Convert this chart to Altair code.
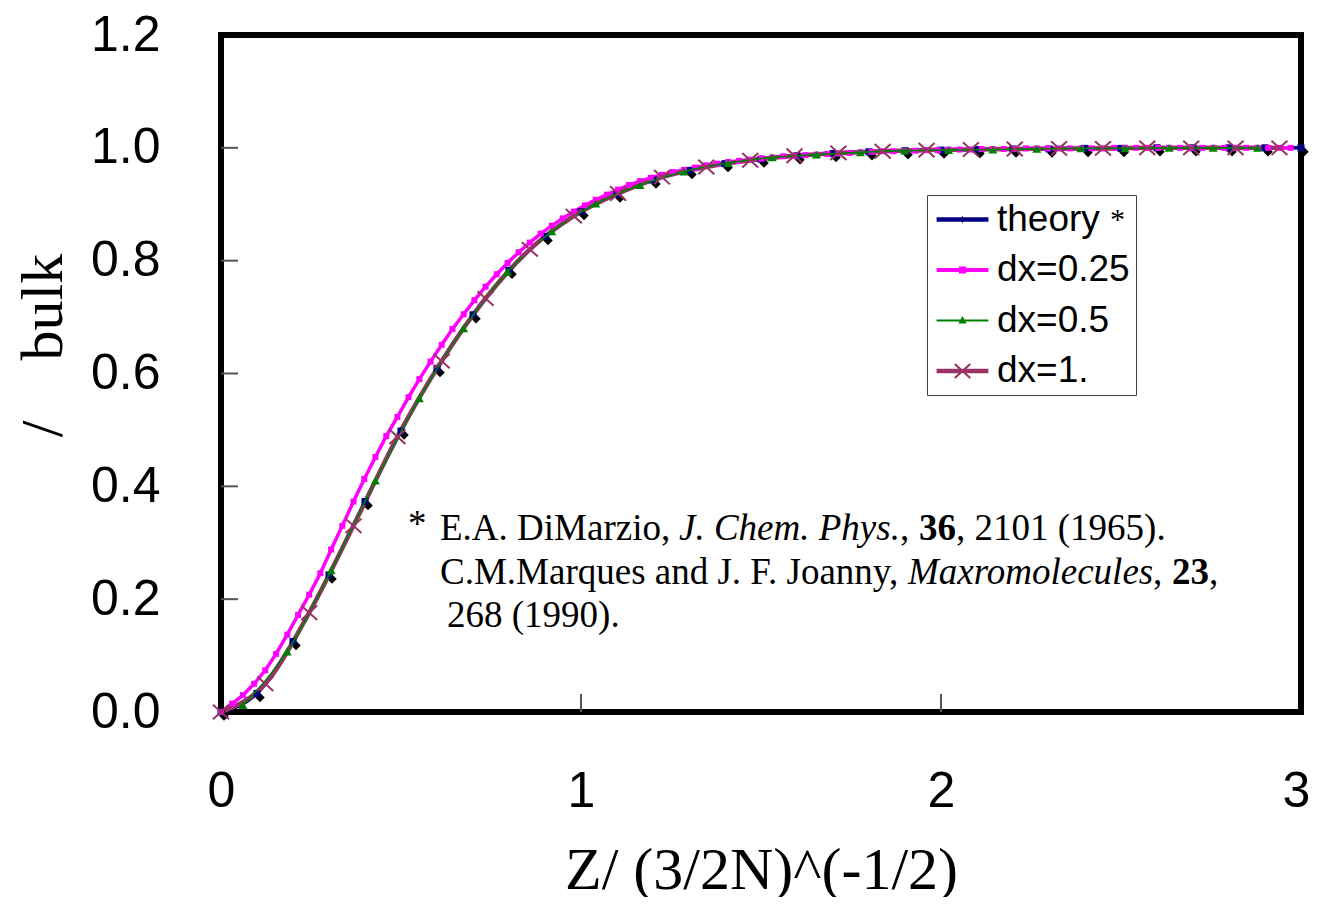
import altair as alt
import pandas as pd

# ---------------- data ----------------
theory_x = [0.0, 0.1, 0.2, 0.3, 0.4, 0.5, 0.6, 0.7, 0.8, 0.9, 1.0, 1.1, 1.2, 1.3, 1.4, 1.5,
            1.6, 1.7, 1.8, 1.9, 2.0, 2.1, 2.2, 2.3, 2.4, 2.5, 2.6, 2.7, 2.8, 2.9, 3.0]
theory_y = [0.000, 0.033, 0.125, 0.243, 0.373, 0.498, 0.609, 0.704, 0.783, 0.843, 0.887,
            0.918, 0.943, 0.960, 0.972, 0.980, 0.986, 0.990, 0.993, 0.995, 0.996, 0.997,
            0.998, 0.998, 0.999, 0.999, 1.000, 1.000, 1.000, 1.000, 1.000]

dx025_x = [0.000, 0.031, 0.061, 0.092, 0.123, 0.153, 0.184, 0.214, 0.245, 0.276, 0.306, 0.337,
           0.368, 0.398, 0.429, 0.459, 0.490, 0.521, 0.551, 0.582, 0.613, 0.643, 0.674, 0.704,
           0.735, 0.766, 0.796, 0.827, 0.858, 0.888, 0.919, 0.949, 0.980, 1.011, 1.041, 1.072,
           1.103, 1.133, 1.164, 1.194, 1.225, 1.256, 1.286, 1.317, 1.348, 1.378, 1.409, 1.439,
           1.470, 1.501, 1.531, 1.562, 1.593, 1.623, 1.654, 1.684, 1.715, 1.746, 1.776, 1.807,
           1.838, 1.868, 1.899, 1.929, 1.960, 1.991, 2.021, 2.052, 2.083, 2.113, 2.144, 2.174,
           2.205, 2.236, 2.266, 2.297, 2.328, 2.358, 2.389, 2.419, 2.450, 2.481, 2.511, 2.542,
           2.573, 2.603, 2.634, 2.664, 2.695, 2.726, 2.756, 2.787, 2.818, 2.848, 2.879, 2.909,
           2.940, 2.971]
dx025_y = [0.000, 0.015, 0.030, 0.050, 0.074, 0.103, 0.137, 0.172, 0.208, 0.246, 0.288, 0.330,
           0.373, 0.413, 0.452, 0.489, 0.523, 0.558, 0.590, 0.621, 0.651, 0.679, 0.705, 0.730,
           0.754, 0.776, 0.796, 0.815, 0.832, 0.848, 0.862, 0.875, 0.887, 0.898, 0.908, 0.917,
           0.926, 0.934, 0.941, 0.947, 0.952, 0.957, 0.961, 0.965, 0.969, 0.972, 0.975, 0.977,
           0.979, 0.981, 0.983, 0.985, 0.986, 0.987, 0.988, 0.989, 0.990, 0.991, 0.992, 0.993,
           0.994, 0.994, 0.995, 0.995, 0.996, 0.996, 0.997, 0.997, 0.997, 0.998, 0.998, 0.998,
           0.998, 0.999, 0.999, 0.999, 0.999, 0.999, 0.999, 0.999, 0.999, 1.000, 1.000, 1.000,
           1.000, 1.000, 1.000, 1.000, 1.000, 1.000, 1.000, 1.000, 1.000, 1.000, 1.000, 1.000,
           1.000, 1.000]

dx05_x = [0.061, 0.184, 0.306, 0.429, 0.551, 0.674, 0.796, 0.919, 1.041, 1.164, 1.286, 1.409,
          1.531, 1.654, 1.776, 1.899, 2.021, 2.144, 2.266, 2.389, 2.511, 2.634, 2.756, 2.879]
dx05_y = [0.012, 0.107, 0.251, 0.410, 0.556, 0.680, 0.780, 0.852, 0.901, 0.934, 0.958, 0.973,
          0.983, 0.988, 0.992, 0.995, 0.996, 0.997, 0.998, 0.999, 0.999, 1.000, 1.000, 1.000]

dx1_x = [0.000, 0.123, 0.245, 0.368, 0.490, 0.613, 0.735, 0.858, 0.980, 1.103, 1.225, 1.348,
         1.470, 1.593, 1.715, 1.838, 1.960, 2.083, 2.205, 2.328, 2.450, 2.573, 2.695, 2.818, 2.940]
dx1_y = [0.000, 0.050, 0.176, 0.330, 0.488, 0.622, 0.733, 0.820, 0.879, 0.919, 0.948, 0.966,
         0.978, 0.986, 0.991, 0.994, 0.996, 0.997, 0.998, 0.999, 0.999, 1.000, 1.000, 1.000, 1.000]

series_names = ["theory", "dx=0.25", "dx=0.5", "dx=1."]
series_colors = ["#000080", "#FF00FF", "#008000", "#993366"]

y_tick_values = [0.0, 0.2, 0.4, 0.6, 0.8, 1.0, 1.2]
x_tick_values = [0, 1, 2, 3]
inner_y_ticks = [0.2, 0.4, 0.6, 0.8, 1.0]
inner_x_ticks = [1, 2]

W, H = 1080, 677

df_t = pd.DataFrame({"x": theory_x, "y": theory_y})
df_m = pd.DataFrame({"x": dx025_x, "y": dx025_y})
df_g = pd.DataFrame({"x": dx05_x, "y": dx05_y})
df_p = pd.DataFrame({"x": dx1_x, "y": dx1_y})

xs = alt.Scale(domain=[0, 3], nice=False, zero=False)
ys = alt.Scale(domain=[0, 1.2], nice=False, zero=False)

X = alt.X("x:Q", scale=xs,
          axis=alt.Axis(values=x_tick_values, format="d", title="Z/ (3/2N)^(-1/2)",
                        titleFont="Liberation Serif", titleFontSize=60, titleFontWeight="normal",
                        titleColor="black", titleBaseline="alphabetic", titleY=176,
                        labelFont="Liberation Sans", labelFontSize=50, labelColor="black",
                        labelFlush=False, labelPadding=54, ticks=False, tickSize=0,
                        labelOffset={"condition": {"test": "datum.value == 3", "value": -5},
                                     "value": 0},
                        domain=False, grid=False))
Y = alt.Y("y:Q", scale=ys,
          axis=alt.Axis(values=y_tick_values, format=".1f", title="/\u00a0\u00a0\u00a0\u00a0bulk",
                        titleFont="Liberation Serif", titleFontSize=60, titleFontWeight="normal",
                        titleColor="black", titleAngle=270, titleBaseline="middle",
                        titleX=-178, titleY=310,
                        labelFont="Liberation Sans", labelFontSize=50, labelColor="black",
                        labelFlush=False, labelPadding=61, ticks=False, tickSize=0,
                        domain=False, grid=False))

# inward ticks
yt = alt.Chart(pd.DataFrame({"v": inner_y_ticks})).mark_rule(color="#555555", strokeWidth=2).encode(
    y=alt.Y("v:Q", scale=ys), x=alt.value(0), x2=alt.value(17))
xt = alt.Chart(pd.DataFrame({"v": inner_x_ticks})).mark_rule(color="#555555", strokeWidth=2).encode(
    x=alt.X("v:Q", scale=xs), y=alt.value(H), y2=alt.value(H - 18))

shadow = alt.Chart(df_t).mark_point(shape="diamond", filled=True, color="black", size=90,
                                     opacity=1, xOffset=3, yOffset=4).encode(x=X, y=Y)
line_t = alt.Chart(df_t).mark_line(color="#000080", strokeWidth=3.5, interpolate="monotone").encode(x=X, y=Y)
line_m = alt.Chart(df_m).mark_line(color="#FF00FF", strokeWidth=3.5).encode(x=X, y=Y)
line_p = alt.Chart(df_p).mark_line(color="#993366", strokeWidth=4.5, interpolate="monotone").encode(x=X, y=Y)
pts_t = alt.Chart(df_t).mark_point(shape="square", filled=True, color="#000080", size=50,
                                    opacity=1).encode(x=X, y=Y)
pts_m = alt.Chart(df_m).mark_point(shape="square", filled=True, color="#FF00FF", size=36,
                                    opacity=1).encode(x=X, y=Y)
line_g = alt.Chart(df_g).mark_line(color="#008000", strokeWidth=1.6, interpolate="monotone").encode(x=X, y=Y)
pts_g = alt.Chart(df_g).mark_point(shape="triangle-up", filled=True, color="#008000", size=80,
                                    opacity=1).encode(x=X, y=Y)
pts_p = alt.Chart(df_p).mark_point(shape="M-1,-0.9L1,0.9M-1,0.9L1,-0.9", filled=False,
                                    color="#993366", size=256, strokeWidth=2,
                                    opacity=1).encode(x=X, y=Y)

# legend symbols: line sample + marker as filled SVG paths (unit = 18 px)
p_theory = "M-1.44,-0.13L1.44,-0.13L1.44,0.13L-1.44,0.13Z M0,-0.2L0.14,0L0,0.2L-0.14,0Z"
p_m = "M-1.44,-0.11L1.44,-0.11L1.44,0.11L-1.44,0.11Z M-0.2,-0.2L0.2,-0.2L0.2,0.2L-0.2,0.2Z"
p_g = "M-1.44,-0.05L1.44,-0.05L1.44,0.05L-1.44,0.05Z M0,-0.25L0.23,0.17L-0.23,0.17Z"
p_p = ("M-1.44,-0.13L1.44,-0.13L1.44,0.13L-1.44,0.13Z "
       "M-0.47,-0.35L-0.39,-0.43L0.47,0.35L0.39,0.43Z "
       "M-0.39,0.43L-0.47,0.35L0.39,-0.43L0.47,-0.35Z")
legend_paths = [p_theory, p_m, p_g, p_p]

leg = alt.Legend(title=None, orient="none", legendX=706, legendY=160, padding=6,
                 strokeColor="#444444", labelFont="Liberation Sans",
                 labelFontSize=37, labelColor="black", labelOffset=16, symbolOffset=11,
                 rowPadding=12.5, symbolSize=1296, symbolStrokeWidth=0, symbolOpacity=1,
                 labelLimit=300)
legend_layer = alt.Chart(pd.DataFrame({"series": series_names})).mark_point(
    filled=True, opacity=1, size=0).encode(
    color=alt.Color("series:N", scale=alt.Scale(domain=series_names, range=series_colors), legend=leg),
    shape=alt.Shape("series:N", scale=alt.Scale(domain=series_names, range=legend_paths), legend=leg),
    x=alt.value(-500), y=alt.value(-500))


def seg(txt, px, py, size=37, style="normal", weight="normal", font="Liberation Serif"):
    return alt.Chart(alt.Data(values=[{"a": 1}])).mark_text(
        text=txt, align="left", baseline="alphabetic", font=font, fontSize=size,
        fontStyle=style, fontWeight=weight, color="black").encode(x=alt.value(px), y=alt.value(py))


texts = [
    seg("*", 889, 194, size=30, font="Liberation Serif"),
    seg("*", 187, 501),
    seg("E.A. DiMarzio,", 219, 505),
    seg("J. Chem. Phys.", 458, 505, style="italic"),
    seg(",", 679, 505),
    seg("36", 698, 505, weight="bold"),
    seg(", 2101 (1965).", 735, 505),
    seg("C.M.Marques and J. F. Joanny,", 219, 549),
    seg("Maxromolecules", 687, 549, style="italic"),
    seg(",", 932, 549),
    seg("23", 951, 549, weight="bold"),
    seg(",", 988, 549),
    seg("268 (1990).", 226, 592),
]

chart = alt.layer(yt, xt, shadow, line_t, line_m, line_p, pts_t, pts_m, line_g, pts_g, pts_p,
                  legend_layer, *texts).properties(
    width=W, height=H, autosize="none",
    padding={"left": 213, "top": 27, "right": 9, "bottom": 185}
).configure_view(stroke="black", strokeWidth=6)

chart.save("out.html", embed_options={"renderer": "svg", "actions": False})
